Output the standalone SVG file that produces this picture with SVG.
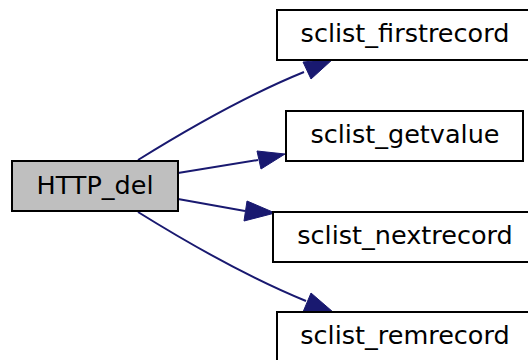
<svg xmlns="http://www.w3.org/2000/svg" width="528" height="360" viewBox="0 0 528 360">
<style>
.box{fill:#ffffff;stroke:#000000;stroke-width:2}
.main{fill:#bfbfbf}
.lbl{font-family:"DejaVu Sans",sans-serif;font-size:25.5px;fill:#000000;text-anchor:middle}
.edge{fill:none;stroke:#191970;stroke-width:2}
.head{fill:#191970;stroke:#191970;stroke-width:1}
</style>
<rect width="528" height="360" fill="#ffffff"/>
<g id="connectors">
<path class="edge" d="M138,160 C175,137 240,98 304,72"/>
<polygon class="head" points="333,59 303,62 311,79"/>
<path class="edge" d="M178,173 L258,160"/>
<polygon class="head" points="285,154 257,151 261,169"/>
<path class="edge" d="M178,199 L245,211"/>
<polygon class="head" points="275,213 247,201 244,221"/>
<path class="edge" d="M138,212 C175,235 240,274 306,301"/>
<polygon class="head" points="333,312 311,293 303,312"/>
</g>
<g id="node_HTTP_del">
<rect class="box main" x="12" y="161" width="166" height="50"/>
<text class="lbl" x="95" y="194">HTTP_del</text>
</g>
<g id="node_sclist_firstrecord">
<rect class="box" x="277" y="10" width="260" height="50"/>
<text class="lbl" x="405" y="42">sclist_firstrecord</text>
</g>
<g id="node_sclist_getvalue">
<rect class="box" x="286" y="111" width="237" height="50"/>
<text class="lbl" x="405" y="143">sclist_getvalue</text>
</g>
<g id="node_sclist_nextrecord">
<rect class="box" x="273" y="212" width="270" height="50"/>
<text class="lbl" x="405" y="244">sclist_nextrecord</text>
</g>
<g id="node_sclist_remrecord">
<rect class="box" x="277" y="312" width="260" height="50"/>
<text class="lbl" x="405" y="344">sclist_remrecord</text>
</g>
</svg>
